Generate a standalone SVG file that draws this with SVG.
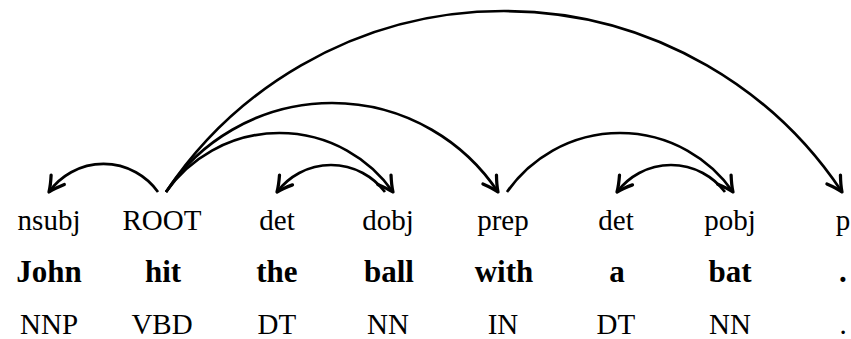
<svg xmlns="http://www.w3.org/2000/svg" width="851" height="339" viewBox="0 0 851 339">
<defs>
<marker id="tip" markerUnits="userSpaceOnUse" markerWidth="20" markerHeight="20" refX="0" refY="0" viewBox="-14 -8 16 16" orient="auto" overflow="visible">
<path d="M -12 -6.5 Q -5 -2 0 0 Q -5 2 -12 6.5" fill="none" stroke="#000" stroke-width="2.6" stroke-linecap="round" stroke-linejoin="round"/>
</marker>
</defs>
<rect width="851" height="339" fill="#fff"/>
<g id="connectors" fill="none" stroke="#000" stroke-width="2.7">
<path id="e-nsubj" d="M 158 192 A 67 67 0 0 0 49 192" marker-end="url(#tip)"/>
<path id="e-dobj" d="M 166 192 A 138.7 138.7 0 0 1 393 192" marker-end="url(#tip)"/>
<path id="e-prep" d="M 166 192 A 199.3 199.3 0 0 1 498 192" marker-end="url(#tip)"/>
<path id="e-p" d="M 166 192 A 406.1 406.1 0 0 1 842 192" marker-end="url(#tip)"/>
<path id="e-det1" d="M 385 192 A 67.5 67.5 0 0 0 277 192" marker-end="url(#tip)"/>
<path id="e-pobj" d="M 507 192 A 137.7 137.7 0 0 1 733 192" marker-end="url(#tip)"/>
<path id="e-det2" d="M 725 192 A 67.5 67.5 0 0 0 617 192" marker-end="url(#tip)"/>
</g>
<g id="t1">
<text x="17.6" y="230" font-family="Liberation Serif" font-size="29">nsubj</text>
<text x="16.2" y="282" font-family="Liberation Serif" font-size="31" font-weight="bold">John</text>
<text x="20" y="334" font-family="Liberation Serif" font-size="29">NNP</text>
</g>
<g id="t2">
<text x="122.5" y="230" font-family="Liberation Serif" font-size="29">ROOT</text>
<text x="144.9" y="282" font-family="Liberation Serif" font-size="31" font-weight="bold">hit</text>
<text x="131.4" y="334" font-family="Liberation Serif" font-size="29">VBD</text>
</g>
<g id="t3">
<text x="259.3" y="230" font-family="Liberation Serif" font-size="29">det</text>
<text x="256.3" y="282" font-family="Liberation Serif" font-size="31" font-weight="bold">the</text>
<text x="257.6" y="334" font-family="Liberation Serif" font-size="29">DT</text>
</g>
<g id="t4">
<text x="362.2" y="230" font-family="Liberation Serif" font-size="29">dobj</text>
<text x="364" y="282" font-family="Liberation Serif" font-size="31" font-weight="bold">ball</text>
<text x="367" y="334" font-family="Liberation Serif" font-size="29">NN</text>
</g>
<g id="t5">
<text x="477.2" y="230" font-family="Liberation Serif" font-size="29">prep</text>
<text x="474.7" y="282" font-family="Liberation Serif" font-size="31" font-weight="bold">with</text>
<text x="487.7" y="334" font-family="Liberation Serif" font-size="29">IN</text>
</g>
<g id="t6">
<text x="598.3" y="230" font-family="Liberation Serif" font-size="29">det</text>
<text x="609.2" y="282" font-family="Liberation Serif" font-size="31" font-weight="bold">a</text>
<text x="596.6" y="334" font-family="Liberation Serif" font-size="29">DT</text>
</g>
<g id="t7">
<text x="704.2" y="230" font-family="Liberation Serif" font-size="29">pobj</text>
<text x="708.4" y="282" font-family="Liberation Serif" font-size="31" font-weight="bold">bat</text>
<text x="709" y="334" font-family="Liberation Serif" font-size="29">NN</text>
</g>
<g id="t8">
<text x="835.7" y="230" font-family="Liberation Serif" font-size="29">p</text>
<text x="839.1" y="282" font-family="Liberation Serif" font-size="31" font-weight="bold">.</text>
<text x="839.4" y="334" font-family="Liberation Serif" font-size="29">.</text>
</g>
</svg>
